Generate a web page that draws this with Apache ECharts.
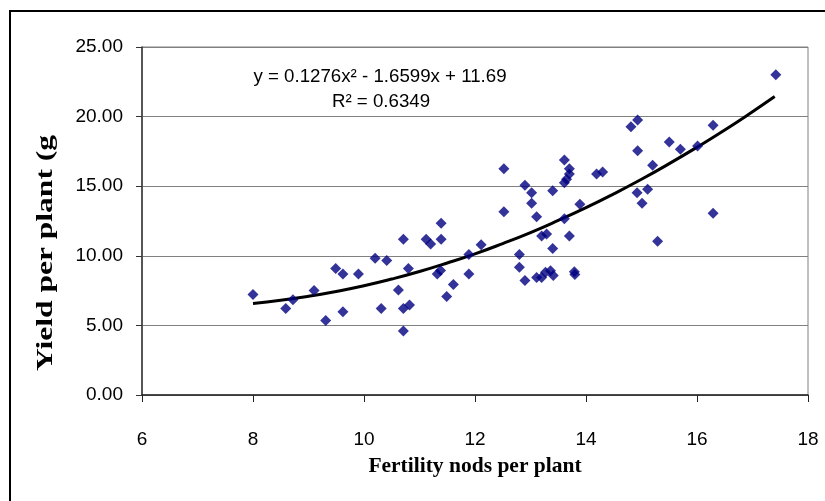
<!DOCTYPE html>
<html>
<head>
<meta charset="utf-8">
<script src="https://cdn.jsdelivr.net/npm/echarts@6/dist/echarts.min.js"></script>
<style>
html,body{margin:0;padding:0;background:#fff;}
#chart{width:825px;height:501px;}
</style>
</head>
<body>
<div id="chart"></div>
<script>
// Fertility nods per plant (x)
var fertilityNods = [
  8.00, 8.59, 8.72, 9.10, 9.31, 9.49, 9.62, 9.62, 9.90, 10.20,
  10.31, 10.41, 10.62, 10.71, 10.71, 10.82, 10.71, 10.80, 11.12, 11.20,
  11.32, 11.38, 11.39, 11.39, 11.49, 11.61, 11.89, 11.89, 12.11, 12.52,
  12.52, 12.80, 12.80, 12.90, 13.02, 12.90, 13.02, 13.11, 13.11, 13.20,
  13.27, 13.36, 13.41, 13.79, 13.80, 13.20, 13.29, 13.40, 13.40, 13.61,
  13.70, 13.70, 13.65, 13.61, 13.61, 13.70, 13.89, 14.19, 14.30, 14.81,
  14.93, 14.93, 15.20, 14.92, 15.11, 15.01, 15.29, 15.50, 15.70, 16.01,
  16.29, 16.29, 17.42
];
// Yield per plant (g) (y)
var yieldPerPlant = [
  7.22, 6.21, 6.84, 7.50, 5.35, 9.08, 8.70, 5.98, 8.70, 9.83,
  6.21, 9.66, 7.55, 11.19, 6.21, 6.46, 4.59, 9.08, 11.19, 10.85,
  8.70, 8.94, 12.34, 11.19, 7.07, 7.93, 10.09, 8.70, 10.80, 16.26,
  13.17, 10.09, 9.18, 15.06, 14.53, 8.22, 13.77, 12.81, 8.45, 8.45,
  8.81, 8.92, 8.59, 8.85, 8.65, 11.43, 11.57, 10.52, 14.68, 16.88,
  16.26, 15.88, 15.50, 15.25, 12.67, 11.43, 13.70, 15.88, 16.02, 19.27,
  19.75, 17.55, 16.50, 14.53, 14.78, 13.77, 11.05, 18.17, 17.65, 17.88,
  19.37, 13.06, 23.00
];
// Polynomial trendline
var trendX = [8.0, 8.5, 9.0, 9.5, 10.0, 10.5, 11.0, 11.5, 12.0, 12.5, 13.0, 13.5, 14.0, 14.5, 15.0, 15.5, 16.0, 16.5, 17.0, 17.4];
var trendY = [6.58, 6.80, 7.09, 7.44, 7.85, 8.33, 8.87, 9.48, 10.14, 10.88, 11.67, 12.54, 13.46, 14.45, 15.50, 16.62, 17.80, 19.04, 20.35, 21.44];
// Texts
var xTitle = 'Fertility nods per plant';
var yTitle = 'Yield per plant (g';
var eqLine1 = 'y = 0.1276x\u00B2 - 1.6599x + 11.69';
var eqLine2 = 'R\u00B2 = 0.6349';

var scatterData = fertilityNods.map(function (x, i) { return [x, yieldPerPlant[i]]; });
var trendData = trendX.map(function (x, i) { return [x, trendY[i]]; });

var chart = echarts.init(document.getElementById('chart'), null, {renderer: 'canvas'});
chart.setOption({
  backgroundColor: '#ffffff',
  animation: false,
  grid: {
    left: 142, right: 17, top: 47, bottom: 106,
    show: true, borderColor: '#808080', borderWidth: 1, backgroundColor: 'transparent'
  },
  xAxis: {
    type: 'value', min: 6, max: 18, interval: 2,
    axisLine: {show: true, onZero: false, lineStyle: {color: '#222', width: 1.5}},
    axisTick: {show: true, inside: false, length: 7, lineStyle: {color: '#222'}},
    splitLine: {show: false},
    axisLabel: {margin: 35, color: '#000', fontFamily: 'Liberation Sans', fontSize: 19}
  },
  yAxis: {
    type: 'value', min: 0, max: 25, interval: 5,
    axisLine: {show: true, onZero: false, lineStyle: {color: '#333', width: 1.5}},
    axisTick: {show: true, inside: false, length: 6, lineStyle: {color: '#333'}},
    splitLine: {show: true, lineStyle: {color: '#808080', width: 1}},
    axisLabel: {
      margin: 19, color: '#000', fontFamily: 'Liberation Sans', fontSize: 19,
      formatter: function (v) { return v.toFixed(2); }
    }
  },
  series: [
    {
      type: 'line', data: trendData, smooth: true, symbol: 'none',
      lineStyle: {color: '#000', width: 3}, z: 2
    },
    {
      type: 'scatter', data: scatterData, symbol: 'diamond', symbolSize: 11,
      itemStyle: {color: '#000080'}, z: 3
    }
  ],
  graphic: [
    {
      type: 'rect', shape: {x: 10, y: 11, width: 900, height: 600},
      style: {fill: 'none', stroke: '#000', lineWidth: 2}, silent: true
    },
    {
      type: 'text', x: 380, y: 77,
      style: {text: eqLine1, fontFamily: 'Liberation Sans', fontSize: 18.7, fill: '#000',
              textAlign: 'center', textVerticalAlign: 'middle'}
    },
    {
      type: 'text', x: 381, y: 102,
      style: {text: eqLine2, fontFamily: 'Liberation Sans', fontSize: 18.7, fill: '#000',
              textAlign: 'center', textVerticalAlign: 'middle'}
    },
    {
      type: 'text', x: 475, y: 466,
      style: {text: xTitle, fontFamily: 'Liberation Serif', fontWeight: 'bold', fontSize: 21.5, fill: '#000',
              textAlign: 'center', textVerticalAlign: 'middle'}
    },
    {
      type: 'text', x: 46, y: 253, rotation: Math.PI / 2, scaleX: 1.37, scaleY: 1,
      style: {text: yTitle, fontFamily: 'Liberation Serif', fontWeight: 'bold', fontSize: 23, fill: '#000',
              textAlign: 'center', textVerticalAlign: 'middle'}
    }
  ]
});
</script>
</body>
</html>
